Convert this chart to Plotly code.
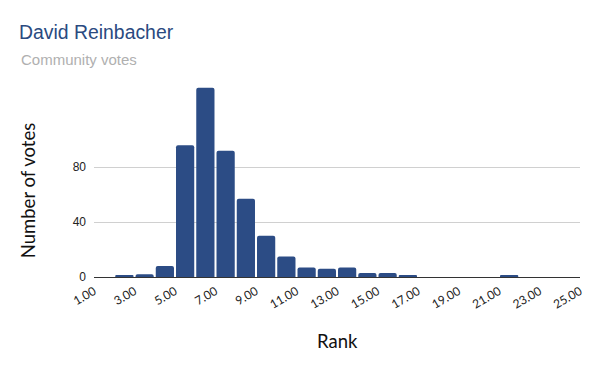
import plotly.graph_objects as go

ranks = list(range(1, 25))
votes = [0, 1, 2, 8, 96, 138, 92, 57, 30, 15, 7, 6, 7, 3, 3, 1, 0, 0, 0, 0, 1, 0, 0, 0]
tick_vals = list(range(1, 26, 2))
tick_text = [f"{v:.2f}" for v in tick_vals]

L, R, T, B = 94, 20, 84.5, 94
W, H = 600, 371
pw = W - L - R
ph = H - T - B


def px(x):
    return (x - L) / pw


def py(y):
    return (H - B - y) / ph


fig = go.Figure(go.Bar(
    x=ranks, y=votes, offset=0.05, width=0.9,
    marker=dict(color="#2c4c85", line=dict(width=0)),
))

axis_font = dict(family="Lato, Carlito, sans-serif", size=18.5, color="#111111")

fig.update_layout(
    width=W, height=H,
    margin=dict(l=L, r=R, t=T, b=B, pad=0),
    plot_bgcolor="white", paper_bgcolor="white",
    barcornerradius=2,
    showlegend=False,
    title=dict(text="David Reinbacher", x=19 / W, xanchor="left", xref="container",
               y=1 - 32 / H, yanchor="middle", yref="container",
               font=dict(family="Liberation Sans, Arial", size=19.4, color="#2a4a80")),
    annotations=[
        dict(text="Community votes", xref="paper", yref="paper",
             x=px(19), y=py(59), xanchor="left", yanchor="middle", showarrow=False,
             font=dict(family="Liberation Sans, Arial", size=15, color="#b0b0b0")),
        dict(text="Rank", xref="paper", yref="paper",
             x=px(337), y=py(341), xanchor="center", yanchor="middle", showarrow=False,
             font=axis_font),
        dict(text="Number of votes", xref="paper", yref="paper", textangle=-90,
             x=px(28), y=py(191), xanchor="center", yanchor="middle", showarrow=False,
             font=axis_font),
    ],
    xaxis=dict(range=[1, 25], tickvals=tick_vals, ticktext=tick_text, tickangle=-30,
               showgrid=False, zeroline=False, showline=True, linecolor="#333333", linewidth=1,
               ticks="", ticklabelstandoff=2,
               tickfont=dict(family="Lato, Carlito, sans-serif", size=12, color="#222222")),
    yaxis=dict(range=[0, 140], tickvals=[0, 40, 80], showgrid=True, gridcolor="#d0d0d0",
               zeroline=False, showline=False, ticks="", ticklabelstandoff=7,
               tickfont=dict(family="Liberation Sans, Arial", size=12, color="#222222")),
)

fig.write_html("out.html")
